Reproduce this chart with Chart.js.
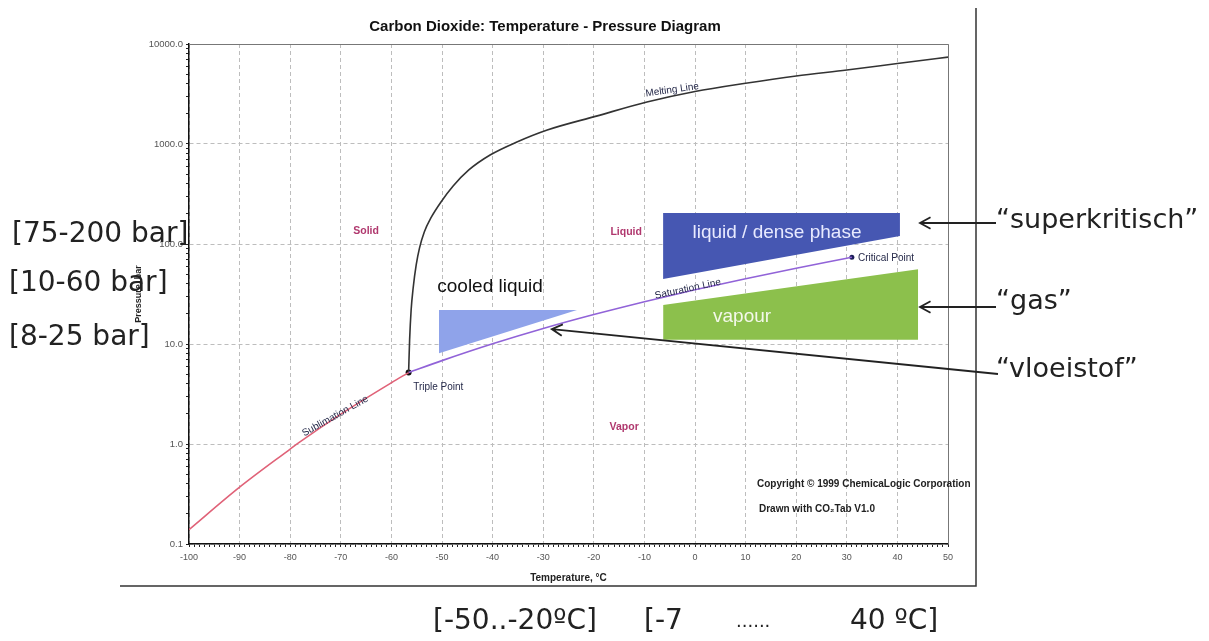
<!DOCTYPE html>
<html>
<head>
<meta charset="utf-8">
<script src="https://cdn.jsdelivr.net/npm/chart.js@4.4.1/dist/chart.umd.min.js"></script>
<style>
  body { margin: 0; background: #fff; }
  #wrap { width: 1209px; height: 641px; }
</style>
</head>
<body>
<div id="wrap"><canvas id="co2-chart" width="1209" height="641"></canvas></div>
<script>
// values (temperature in degC, pressure in bar)
const subT = [-100, -90, -80, -78.5, -70, -60, -56.6]
const subP = [0.139, 0.37, 0.89, 1.013, 1.99, 4.1, 5.18]

const satT = [-56.6, -50, -40, -30, -20, -10, 0, 10, 20, 30, 31]
const satP = [5.18, 6.82, 10.05, 14.3, 19.7, 26.5, 34.85, 45.0, 57.3, 72.1, 73.8]

const meltT = [-56.6, -56.4, -56.1, -55.7, -55.1, -54.45, -53.5, -52.2, -50.2, -47.8, -44.7, -40.5, -35.2, -29.2, -19.5, -9.5, 0, 10, 20, 30, 40, 50]
const meltP = [5.18, 11, 21.9, 36.3, 61.7, 91, 132, 182, 263, 380, 550, 776, 1047, 1380, 1900, 2630, 3350, 4050, 4790, 5500, 6380, 7400]

const tripleT = [-56.6]
const tripleP = [5.18]
const criticalT = [31]
const criticalP = [73.8]

// highlighted operating regions
const cooledT = [-50.6, -23.3]
const cooledLow = [8.1, 21.9]
const cooledHigh = [21.9, 21.9]

const denseT = [-6.3, 40.5]
const denseLow = [44.7, 120]
const denseHigh = [204, 204]

const vapourT = [-6.3, 44.1]
const vapourLow = [11, 11]
const vapourHigh = [24.5, 56]

// axis ticks
const xTickValues = []
for (let t = -100; t <= 50; t++) xTickValues.push(t)
const yDecades = [0.1, 1, 10, 100, 1000, 10000]
const yTickValues = []
yDecades.forEach(function(d, i) {
    if (i === yDecades.length - 1) { yTickValues.push(d); return }
    for (let m = 1; m <= 9; m++) yTickValues.push(+(d * m).toPrecision(3))
})

function pts(xs, ys) {
    return xs.map(function(x, i) { return {x: x, y: ys[i]} })
}

function edge(xs, ys, fill, color) {
    return {
        data: pts(xs, ys),
        borderWidth: 0,
        borderColor: 'transparent',
        backgroundColor: color || 'transparent',
        pointRadius: 0,
        fill: fill,
        tension: 0
    }
}

function curve(xs, ys, color) {
    return {
        data: pts(xs, ys),
        borderColor: color,
        borderWidth: 1.6,
        pointRadius: 0,
        fill: false,
        cubicInterpolationMode: 'monotone'
    }
}

function marker(xs, ys, color, r) {
    return {
        data: pts(xs, ys),
        showLine: false,
        pointRadius: r,
        pointBackgroundColor: color,
        pointBorderColor: color,
        pointBorderWidth: 0
    }
}

const SANS = '"Liberation Sans", Arial, sans-serif'
const ANNO = '"DejaVu Sans", Verdana, sans-serif'

function arrow(ctx, x1, y1, x2, y2) {
    // line from (x1,y1) with an open head at (x2,y2)
    const ang = Math.atan2(y2 - y1, x2 - x1)
    const len = 12, spread = 0.5
    ctx.beginPath()
    ctx.moveTo(x1, y1)
    ctx.lineTo(x2, y2)
    ctx.moveTo(x2 - len * Math.cos(ang - spread), y2 - len * Math.sin(ang - spread))
    ctx.lineTo(x2, y2)
    ctx.lineTo(x2 - len * Math.cos(ang + spread), y2 - len * Math.sin(ang + spread))
    ctx.stroke()
}

const textPlugin = {
    id: 'texts',
    afterDraw(chart) {
        const ctx = chart.ctx
        const a = chart.chartArea
        const xs = chart.scales.x, ys = chart.scales.y

        function at(t, p, txt, font, color, align, angle) {
            ctx.save()
            ctx.translate(xs.getPixelForValue(t), ys.getPixelForValue(p))
            if (angle) ctx.rotate(angle * Math.PI / 180)
            ctx.font = font
            ctx.fillStyle = color
            ctx.textAlign = align || 'center'
            ctx.textBaseline = 'middle'
            ctx.fillText(txt, 0, 0)
            ctx.restore()
        }
        function px(x, y, txt, font, color, align) {
            ctx.font = font
            ctx.fillStyle = color
            ctx.textAlign = align || 'left'
            ctx.textBaseline = 'middle'
            ctx.fillText(txt, x, y)
        }

        ctx.save()
        // top and right edge of the plot
        ctx.strokeStyle = '#777'
        ctx.lineWidth = 1
        ctx.beginPath()
        ctx.moveTo(a.left, a.top + 0.5)
        ctx.lineTo(a.right + 0.5, a.top + 0.5)
        ctx.lineTo(a.right + 0.5, a.bottom)
        ctx.stroke()

        // frame of the pasted picture
        ctx.strokeStyle = '#333'
        ctx.lineWidth = 1.5
        ctx.beginPath()
        ctx.moveTo(120, 586)
        ctx.lineTo(976, 586)
        ctx.lineTo(976, 8)
        ctx.stroke()

        // chart title
        px(545, 27, 'Carbon Dioxide: Temperature - Pressure Diagram', 'bold 15px ' + SANS, '#111', 'center')

        // phase names
        const phase = '#b0386e'
        at(-65, 135, 'Solid', 'bold 10.5px ' + SANS, phase)
        at(-13.6, 132, 'Liquid', 'bold 10.5px ' + SANS, phase)
        at(-14, 1.48, 'Vapor', 'bold 10.5px ' + SANS, phase)

        const navy = '#262a4a'
        at(-55.7, 3.7, 'Triple Point', '10px ' + SANS, navy, 'left')
        at(32.2, 72.4, 'Critical Point', '10px ' + SANS, navy, 'left')
        at(-1.4, 35.5, 'Saturation Line', '10px ' + SANS, navy, 'center', -12)
        at(-71.1, 1.9, 'Sublimation Line', '10px ' + SANS, navy, 'center', -29)
        at(-4.5, 3470, 'Melting Line', '10px ' + SANS, navy, 'center', -8)

        px(757, 484, 'Copyright \u00A9 1999 ChemicaLogic Corporation', 'bold 10px ' + SANS, '#222')
        px(759, 509, 'Drawn with CO\u2082Tab V1.0', 'bold 10px ' + SANS, '#222')

        // region labels
        at(-40.5, 37, 'cooled liquid', '19px ' + SANS, '#111')
        at(16.2, 129, 'liquid / dense phase', '19px ' + SANS, '#e8eaff')
        at(9.3, 18.6, 'vapour', '19px ' + SANS, '#f4f8ea')

        // annotations around the picture
        const ink = '#222'
        px(12, 235, '[75-200 bar]', '28px ' + ANNO, ink)
        px(9, 284, '[10-60 bar]', '28px ' + ANNO, ink)
        px(9, 338, '[8-25 bar]', '28px ' + ANNO, ink)

        px(433, 622, '[-50..-20\u00BAC]', '28px ' + ANNO, ink)
        px(644, 622, '[-7', '28px ' + ANNO, ink)
        px(736, 622, '......', '18px ' + ANNO, ink)
        px(850, 622, '40 \u00BAC]', '28px ' + ANNO, ink)

        px(996, 221, '\u201Csuperkritisch\u201D', '27px ' + ANNO, ink)
        px(996, 302, '\u201Cgas\u201D', '27px ' + ANNO, ink)
        px(996, 370, '\u201Cvloeistof\u201D', '27px ' + ANNO, ink)

        ctx.strokeStyle = ink
        ctx.lineWidth = 1.8
        arrow(ctx, 996, 223, 920, 223)
        arrow(ctx, 996, 307, 920, 307)
        arrow(ctx, 998, 374, xs.getPixelForValue(-28.3), ys.getPixelForValue(14.1))
        ctx.restore()
    }
}

function isDecade(v) {
    return yDecades.indexOf(v) !== -1
}

let ctx = document.querySelector('#co2-chart').getContext('2d')

let co2Chart = new Chart(ctx, {
    type: 'line',
    data: {
        datasets: [
            edge(cooledT, cooledLow, false),
            edge(cooledT, cooledHigh, '-1', '#8fa3ea'),
            edge(denseT, denseLow, false),
            edge(denseT, denseHigh, '-1', '#4657b2'),
            edge(vapourT, vapourLow, false),
            edge(vapourT, vapourHigh, '-1', '#8cc04c'),
            curve(subT, subP, '#e06278'),
            curve(satT, satP, '#9163d8'),
            curve(meltT, meltP, '#333333'),
            marker(tripleT, tripleP, '#111', 3),
            marker(criticalT, criticalP, '#1c1f5a', 2.5)
        ]
    },
    options: {
        responsive: false,
        animation: false,
        events: [],
        layout: { padding: { left: 131, right: 261, top: 44, bottom: 53 } },
        plugins: {
            legend: { display: false },
            title: { display: false },
            tooltip: { enabled: false }
        },
        scales: {
            x: {
                type: 'linear',
                min: -100,
                max: 50,
                afterFit: function(s) { s.height = 44 },
                afterBuildTicks: function(s) { s.ticks = xTickValues.map(function(v) { return {value: v} }) },
                ticks: {
                    autoSkip: false,
                    maxRotation: 0,
                    padding: 5,
                    color: '#555',
                    font: { family: SANS, size: 9 },
                    callback: function(v) { return v % 10 === 0 ? String(v) : '' }
                },
                grid: {
                    color: function(c) { return c.tick && c.tick.value % 10 === 0 ? '#bdbdbd' : 'transparent' },
                    tickColor: '#222',
                    tickLength: 3
                },
                border: { display: true, color: '#111', width: 1.5, dash: [4, 3] },
                title: {
                    display: true,
                    text: 'Temperature, \u00B0C',
                    color: '#222',
                    font: { family: SANS, size: 10, weight: 'bold' },
                    padding: { top: 0, bottom: 4 }
                }
            },
            y: {
                type: 'logarithmic',
                min: 0.1,
                max: 10000,
                afterFit: function(s) { s.width = 58 },
                afterBuildTicks: function(s) { s.ticks = yTickValues.map(function(v) { return {value: v} }) },
                ticks: {
                    autoSkip: false,
                    padding: 3,
                    color: '#555',
                    font: { family: SANS, size: 9.5 },
                    callback: function(v) { return isDecade(v) ? v.toFixed(1) : '' }
                },
                grid: {
                    color: function(c) { return c.tick && isDecade(c.tick.value) ? '#bdbdbd' : 'transparent' },
                    tickColor: '#222',
                    tickLength: 3
                },
                border: { display: true, color: '#111', width: 1.5, dash: [4, 3] },
                title: {
                    display: true,
                    text: 'Pressure, bar',
                    color: '#222',
                    font: { family: SANS, size: 9, weight: 'bold' },
                    padding: { top: 2, bottom: 2 }
                }
            }
        }
    },
    plugins: [textPlugin]
})
</script>
</body>
</html>
